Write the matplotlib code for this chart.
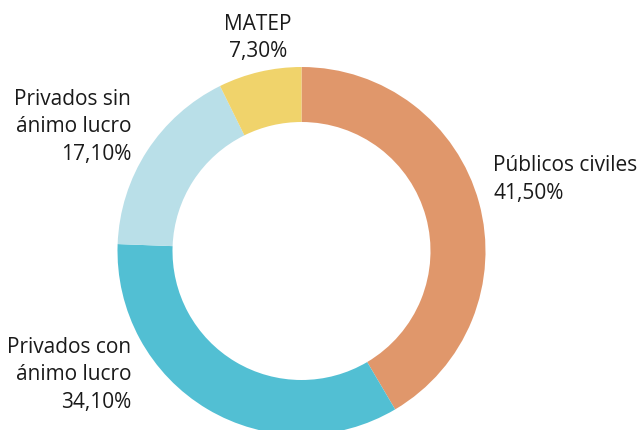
import matplotlib.pyplot as plt

# datos
labels = ["Públicos civiles", "Privados con\nánimo lucro", "Privados sin\nánimo lucro", "MATEP"]
values = [41.5, 34.1, 17.1, 7.3]
value_text = ["41,50%", "34,10%", "17,10%", "7,30%"]
colors = ["#E0976B", "#52BFD3", "#B9DFE8", "#F0D36B"]

plt.rcParams['font.family'] = ['Open Sans', 'DejaVu Sans']

W, H = 639, 431
fig = plt.figure(figsize=(W / 100, H / 100), dpi=100)
ax = fig.add_axes([0, 0, 1, 1])

cx, cy, r = 301.5, H - 252, 184
ax.pie(values, colors=colors, startangle=90, counterclock=False,
       center=(cx, cy), radius=r, wedgeprops=dict(width=55, linewidth=0))
ax.set_xlim(0, W)
ax.set_ylim(0, H)
ax.set_aspect('equal')
ax.axis('off')

fs = 15
step = 27.5
# (x, primera linea base en pixeles, alineacion)
label_pos = [(493, 171, 'left'), (131, 353, 'right'), (131, 105, 'right'), (258, 30, 'center')]

for lab, val, (x, y0, ha) in zip(labels, value_text, label_pos):
    lines = lab.split("\n") + [val]
    for k, line in enumerate(lines):
        ax.text(x, H - (y0 + k * step), line, ha=ha, va='baseline',
                fontsize=fs, color='#1a1a1a')

fig.savefig("out.png", dpi=100)
